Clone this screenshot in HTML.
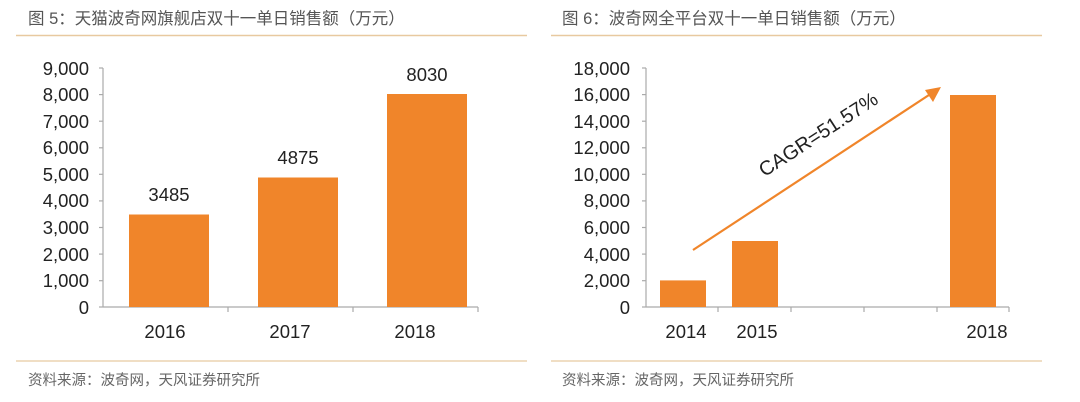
<!DOCTYPE html>
<html><head><meta charset="utf-8"><style>
html,body{margin:0;padding:0;background:#fff;}
svg{display:block;}
text{font-family:"Liberation Sans","Noto Sans CJK SC",sans-serif;}
</style></head><body>
<svg width="1080" height="402" viewBox="0 0 1080 402" xmlns="http://www.w3.org/2000/svg">
<!-- Left panel -->
<text x="28" y="24" font-size="16.5" fill="#555">图 5：天猫波奇网旗舰店双十一单日销售额（万元）</text>
<line x1="16" y1="35.5" x2="527" y2="35.5" stroke="#e8c9a0" stroke-width="1.5"/>
<g stroke="#aaa" stroke-width="1.2">
<line x1="103" y1="68" x2="103" y2="307"/>
<line x1="103" y1="307" x2="478" y2="307"/>
<line x1="99" y1="68" x2="103" y2="68"/><line x1="99" y1="94.6" x2="103" y2="94.6"/><line x1="99" y1="121.2" x2="103" y2="121.2"/><line x1="99" y1="147.8" x2="103" y2="147.8"/><line x1="99" y1="174.3" x2="103" y2="174.3"/><line x1="99" y1="200.9" x2="103" y2="200.9"/><line x1="99" y1="227.5" x2="103" y2="227.5"/><line x1="99" y1="254.1" x2="103" y2="254.1"/><line x1="99" y1="280.7" x2="103" y2="280.7"/><line x1="99" y1="307" x2="103" y2="307"/>
<line x1="228" y1="307" x2="228" y2="312"/><line x1="353" y1="307" x2="353" y2="312"/><line x1="478" y1="307" x2="478" y2="312"/>
</g>
<g font-size="18.5" fill="#222" text-anchor="end">
<text x="89" y="75">9,000</text><text x="89" y="101">8,000</text><text x="89" y="128">7,000</text><text x="89" y="154">6,000</text><text x="89" y="181">5,000</text><text x="89" y="207">4,000</text><text x="89" y="234">3,000</text><text x="89" y="261">2,000</text><text x="89" y="287">1,000</text><text x="89" y="314">0</text>
</g>
<g fill="#f0852a">
<rect x="129" y="214.5" width="80" height="92.5"/>
<rect x="258" y="177.5" width="80" height="129.5"/>
<rect x="387" y="94" width="80" height="213"/>
</g>
<g font-size="18.5" fill="#222" text-anchor="middle">
<text x="169" y="201">3485</text><text x="298" y="164">4875</text><text x="427" y="81">8030</text>
<text x="165" y="338">2016</text><text x="290" y="338">2017</text><text x="415" y="338">2018</text>
</g>
<line x1="16" y1="361" x2="527" y2="361" stroke="#e8c9a0" stroke-width="1.2"/>
<text x="28" y="385" font-size="14.5" fill="#666">资料来源：波奇网，天风证券研究所</text>

<!-- Right panel -->
<text x="562" y="24" font-size="16.5" fill="#555">图 6：波奇网全平台双十一单日销售额（万元）</text>
<line x1="551" y1="35.5" x2="1042" y2="35.5" stroke="#e8c9a0" stroke-width="1.5"/>
<g stroke="#aaa" stroke-width="1.2">
<line x1="646" y1="68" x2="646" y2="307"/>
<line x1="646" y1="307" x2="1009" y2="307"/>
<line x1="642" y1="68" x2="646" y2="68"/><line x1="642" y1="94.6" x2="646" y2="94.6"/><line x1="642" y1="121.2" x2="646" y2="121.2"/><line x1="642" y1="147.8" x2="646" y2="147.8"/><line x1="642" y1="174.3" x2="646" y2="174.3"/><line x1="642" y1="200.9" x2="646" y2="200.9"/><line x1="642" y1="227.5" x2="646" y2="227.5"/><line x1="642" y1="254.1" x2="646" y2="254.1"/><line x1="642" y1="280.7" x2="646" y2="280.7"/><line x1="642" y1="307" x2="646" y2="307"/>
<line x1="718" y1="307" x2="718" y2="312"/><line x1="791" y1="307" x2="791" y2="312"/><line x1="864" y1="307" x2="864" y2="312"/><line x1="937" y1="307" x2="937" y2="312"/><line x1="1009" y1="307" x2="1009" y2="312"/>
</g>
<g font-size="18.5" fill="#222" text-anchor="end">
<text x="630" y="75">18,000</text><text x="630" y="101">16,000</text><text x="630" y="128">14,000</text><text x="630" y="154">12,000</text><text x="630" y="181">10,000</text><text x="630" y="207">8,000</text><text x="630" y="234">6,000</text><text x="630" y="261">4,000</text><text x="630" y="287">2,000</text><text x="630" y="314">0</text>
</g>
<g fill="#f0852a">
<rect x="660" y="280.4" width="46" height="26.6"/>
<rect x="732" y="241" width="46" height="66"/>
<rect x="950" y="95" width="46" height="212"/>
</g>
<g font-size="18.5" fill="#222" text-anchor="middle">
<text x="686" y="338">2014</text><text x="757" y="338">2015</text><text x="987" y="338">2018</text>
</g>
<line x1="693" y1="250" x2="932" y2="93" stroke="#f0852a" stroke-width="2.2"/>
<polygon points="941,87 925,90 933,102" fill="#f0852a"/>
<text x="0" y="0" font-size="20" fill="#222" text-anchor="middle" transform="translate(822,140) rotate(-33)">CAGR=51.57%</text>
<line x1="551" y1="361" x2="1042" y2="361" stroke="#e8c9a0" stroke-width="1.2"/>
<text x="562" y="385" font-size="14.5" fill="#666">资料来源：波奇网，天风证券研究所</text>
</svg>
</body></html>
